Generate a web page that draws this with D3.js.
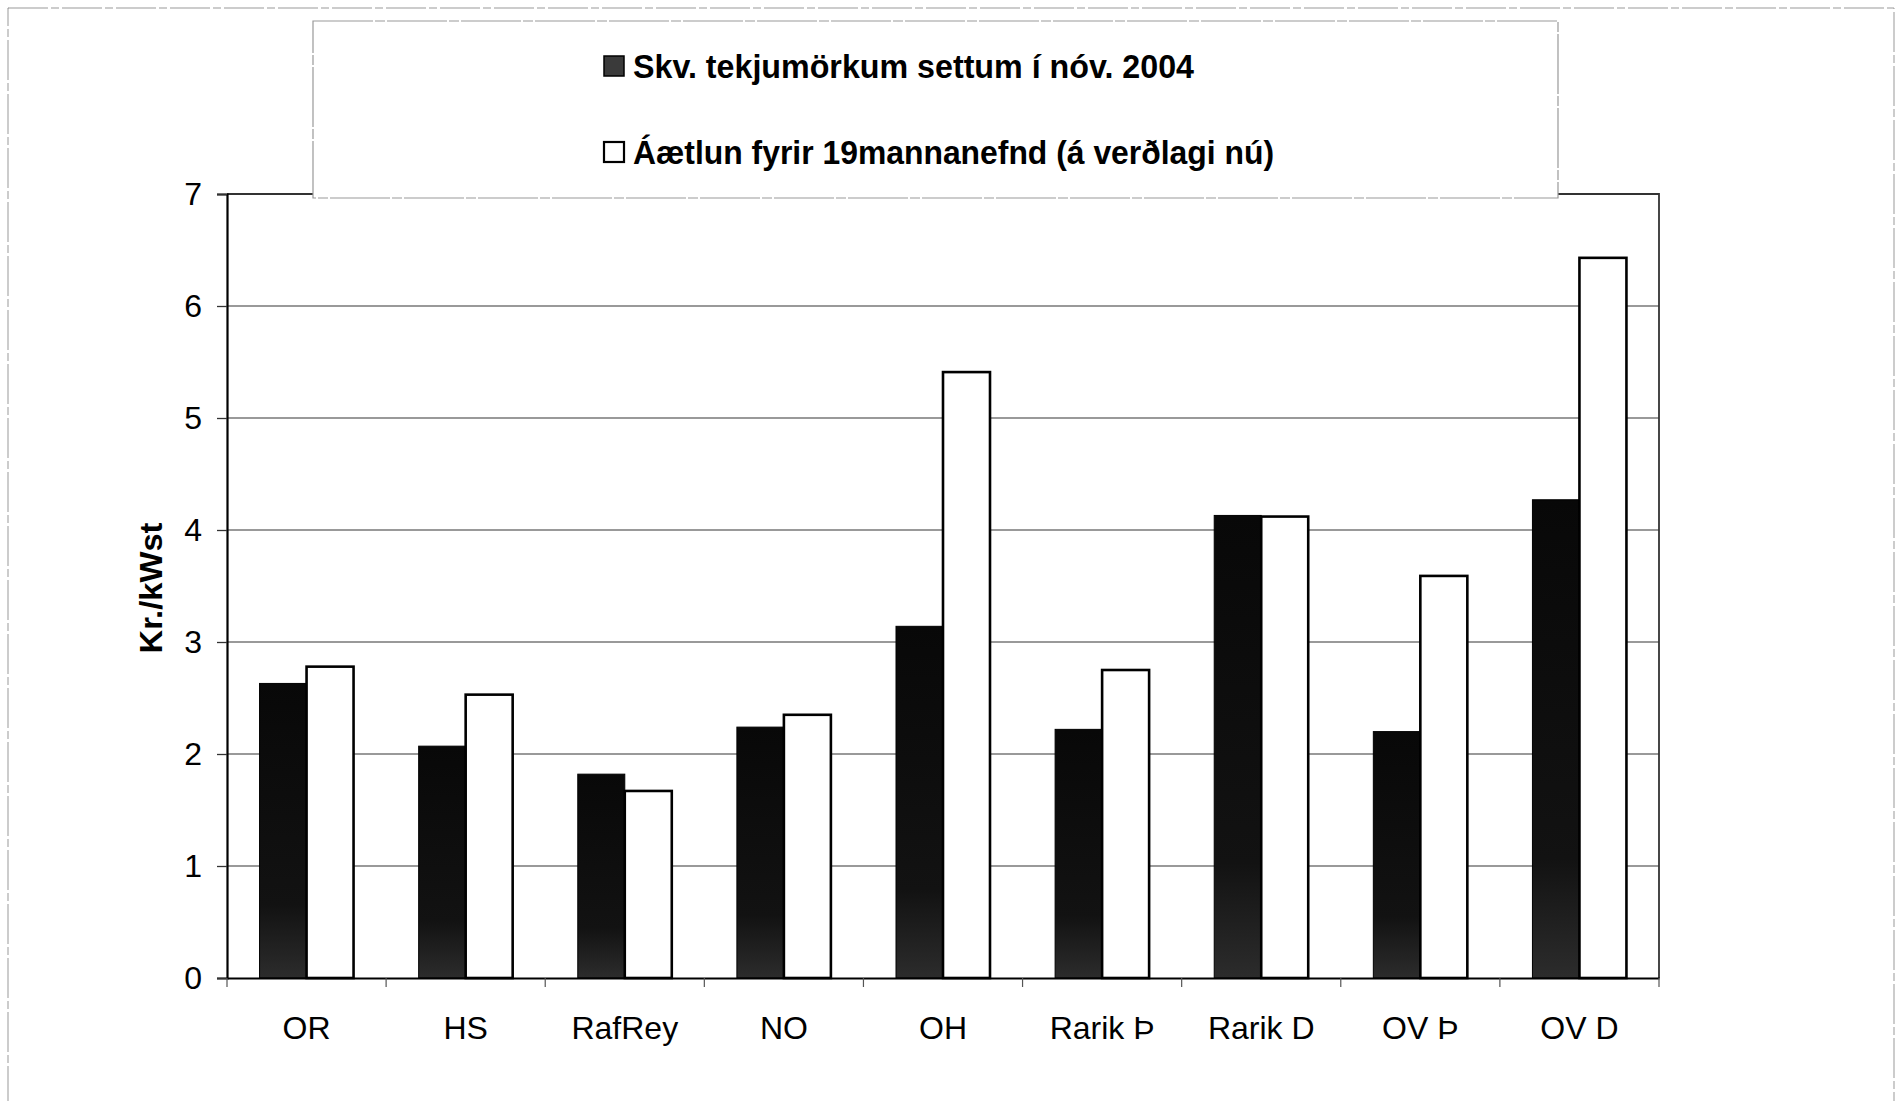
<!DOCTYPE html>
<html>
<head>
<meta charset="utf-8">
<script src="https://cdn.jsdelivr.net/npm/d3@7"></script>
<style>
  html, body { margin: 0; padding: 0; background: #fff; }
  svg { display: block; font-family: 'Liberation Sans', Arial, sans-serif; }
</style>
</head>
<body>
<div id="root"></div>
<script>
const categories = ['OR', 'HS', 'RafRey', 'NO', 'OH', 'Rarik Þ', 'Rarik D', 'OV Þ', 'OV D']
const seriesNames = ['Skv. tekjumörkum settum í nóv. 2004', 'Áætlun fyrir 19mannanefnd (á verðlagi nú)']
const tekjumork = [2.63, 2.07, 1.82, 2.24, 3.14, 2.22, 4.13, 2.20, 4.27]
const aetlun = [2.78, 2.53, 1.67, 2.35, 5.41, 2.75, 4.12, 3.59, 6.43]
const yTicks = [0, 1, 2, 3, 4, 5, 6, 7]
const yTitle = 'Kr./kWst'

const SVG_WIDTH = 1901
const SVG_HEIGHT = 1101

const PLOT_LEFT = 227
const PLOT_RIGHT = 1659
const PLOT_TOP = 194
const PLOT_BOTTOM = 978

const BAR_WIDTH = 47

const rows = categories.map((c, i) => ({ cat: c, values: [tekjumork[i], aetlun[i]] }))

const svg = d3.select('#root')
    .append('svg')
    .attr('width', SVG_WIDTH)
    .attr('height', SVG_HEIGHT)

// dark bars look like a scanned fill, a bit lighter at the bottom
const defs = svg.append('defs')
const grad = defs.append('linearGradient')
    .attr('id', 'darkFill')
    .attr('x1', 0).attr('y1', 0).attr('x2', 0).attr('y2', 1)
grad.append('stop').attr('offset', '0%').attr('stop-color', '#080808')
grad.append('stop').attr('offset', '75%').attr('stop-color', '#121212')
grad.append('stop').attr('offset', '100%').attr('stop-color', '#2c2c2c')

// page frame
svg.append('rect')
    .attr('x', 8).attr('y', 8)
    .attr('width', 1886).attr('height', 1120)
    .attr('fill', 'none')
    .attr('stroke', '#999')
    .attr('stroke-width', 1)
    .attr('stroke-dasharray', '40,3,8,3')

const xScale = d3.scaleBand()
    .domain(categories)
    .range([PLOT_LEFT, PLOT_RIGHT])
    .padding(0)

const step = xScale.bandwidth()
const outer = (step - 2 * BAR_WIDTH) / 2 / BAR_WIDTH
const xInner = d3.scaleBand()
    .domain([0, 1])
    .range([0, step])
    .paddingInner(0)
    .paddingOuter(outer)

const yScale = d3.scaleLinear()
    .domain([0, 7])
    .range([PLOT_BOTTOM, PLOT_TOP])

// gridlines
svg.append('g')
    .selectAll('line')
    .data(yTicks.filter(t => t > 0 && t < 7))
    .enter()
    .append('line')
    .attr('x1', PLOT_LEFT).attr('x2', PLOT_RIGHT)
    .attr('y1', d => yScale(d)).attr('y2', d => yScale(d))
    .attr('stroke', '#777')
    .attr('stroke-width', 1.3)

// plot frame (top and right)
svg.append('path')
    .attr('d', `M${PLOT_LEFT},${PLOT_TOP}H${PLOT_RIGHT}V${PLOT_BOTTOM}`)
    .attr('fill', 'none')
    .attr('stroke', '#333')
    .attr('stroke-width', 1.8)

// bars
const groups = svg.append('g')
    .selectAll('g')
    .data(rows)
    .enter()
    .append('g')
    .attr('transform', d => `translate(${xScale(d.cat)},0)`)

groups.selectAll('rect')
    .data(d => d.values)
    .enter()
    .append('rect')
    .attr('x', (d, i) => xInner(i))
    .attr('y', d => yScale(d))
    .attr('width', xInner.bandwidth())
    .attr('height', d => PLOT_BOTTOM - yScale(d))
    .attr('fill', (d, i) => i === 0 ? 'url(#darkFill)' : '#fff')
    .attr('stroke', '#000')
    .attr('stroke-width', (d, i) => i === 0 ? 1 : 2.6)

// y axis
const yAxis = d3.axisLeft(yScale)
    .tickValues(yTicks)
    .tickFormat(d3.format('d'))
    .tickSize(10)
    .tickPadding(15)

const yAxisG = svg.append('g')
    .attr('transform', `translate(${PLOT_LEFT},0)`)
    .call(yAxis)
yAxisG.select('.domain').attr('stroke', '#000').attr('stroke-width', 2.2)
yAxisG.selectAll('.tick line').attr('stroke', '#333').attr('stroke-width', 1.3)
yAxisG.selectAll('.tick text')
    .attr('font-size', 32)
    .attr('font-family', "'Liberation Sans', Arial, sans-serif")
    .attr('fill', '#000')

// x axis, ticks sit between categories
const xAxisG = svg.append('g')
    .attr('transform', `translate(0,${PLOT_BOTTOM})`)
    .call(d3.axisBottom(xScale).tickSize(0).tickPadding(38))
xAxisG.select('.domain').attr('stroke', '#000').attr('stroke-width', 2.2)
xAxisG.selectAll('.tick text')
    .attr('font-size', 32)
    .attr('font-family', "'Liberation Sans', Arial, sans-serif")
    .attr('fill', '#000')

xAxisG.selectAll('line.sep')
    .data(d3.range(categories.length + 1))
    .enter()
    .append('line')
    .attr('class', 'sep')
    .attr('x1', i => PLOT_LEFT + i * step)
    .attr('x2', i => PLOT_LEFT + i * step)
    .attr('y1', 0).attr('y2', 9)
    .attr('stroke', '#555')
    .attr('stroke-width', 1.2)

// y title
svg.append('text')
    .attr('transform', `translate(162,${(PLOT_TOP + PLOT_BOTTOM) / 2 + 2}) rotate(-90)`)
    .attr('text-anchor', 'middle')
    .attr('font-size', 32)
    .attr('font-weight', 'bold')
    .attr('textLength', 131)
    .attr('lengthAdjust', 'spacingAndGlyphs')
    .text(yTitle)

// legend box, drawn over the plot top edge
const legend = svg.append('g')
legend.append('rect')
    .attr('x', 313).attr('y', 21)
    .attr('width', 1245).attr('height', 177)
    .attr('fill', '#fff')
    .attr('stroke', '#999')
    .attr('stroke-width', 1.2)
    .attr('stroke-dasharray', '60,2,10,2')

const legendRows = [
    { name: seriesNames[0], y: 56, fill: '#3a3a3a', sw: 1.5, len: 561 },
    { name: seriesNames[1], y: 142, fill: '#fff', sw: 2.2, len: 641 }
]

const items = legend.selectAll('g.item')
    .data(legendRows)
    .enter()
    .append('g')
    .attr('class', 'item')

items.append('rect')
    .attr('x', 604)
    .attr('y', d => d.y)
    .attr('width', 20)
    .attr('height', 20)
    .attr('fill', d => d.fill)
    .attr('stroke', '#000')
    .attr('stroke-width', d => d.sw)

items.append('text')
    .attr('x', 633)
    .attr('y', d => d.y + 22)
    .attr('font-size', 33)
    .attr('font-weight', 'bold')
    .attr('textLength', d => d.len)
    .attr('lengthAdjust', 'spacingAndGlyphs')
    .text(d => d.name)
</script>
</body>
</html>
